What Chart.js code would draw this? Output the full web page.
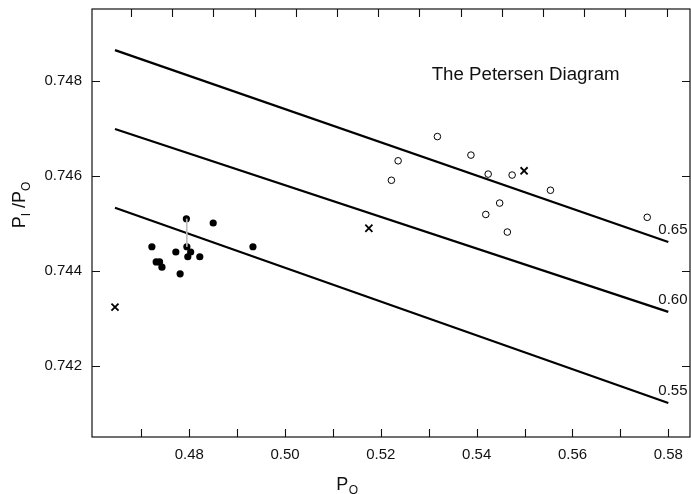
<!DOCTYPE html>
<html><head><meta charset="utf-8">
<script src="https://cdn.jsdelivr.net/npm/chart.js@4/dist/chart.umd.min.js"></script>
<style>html,body{margin:0;padding:0;background:#fff}</style>
</head><body>
<canvas id="c" width="691" height="494"></canvas>
<script>
// ---- data ----
const filledX = [0.4722, 0.4731, 0.4738, 0.4743, 0.4772, 0.4781, 0.4794, 0.4795, 0.4797, 0.4803, 0.4822, 0.4850, 0.4933];
const filledY = [0.74451, 0.74419, 0.74419, 0.74408, 0.74440, 0.74394, 0.74510, 0.74451, 0.74430, 0.74440, 0.74430, 0.74501, 0.74451];
const openX = [0.5318, 0.5236, 0.5222, 0.5388, 0.5424, 0.5474, 0.5554, 0.5448, 0.5419, 0.5464, 0.5756];
const openY = [0.74683, 0.74632, 0.74591, 0.74644, 0.74604, 0.74602, 0.74570, 0.74543, 0.74519, 0.74482, 0.74513];
const crossX = [0.4645, 0.5175, 0.5499];
const crossY = [0.74324, 0.74490, 0.74611];
const linkX = [0.4794, 0.4795];
const linkY = [0.74510, 0.74451];
const lineX = [0.4645, 0.5800];
const line65 = [0.74865, 0.74461];
const line60 = [0.74699, 0.74314];
const line55 = [0.74533, 0.74122];
const lineLabels = ['0.65', '0.60', '0.55'];
const xTicks = [0.47, 0.48, 0.49, 0.50, 0.51, 0.52, 0.53, 0.54, 0.55, 0.56, 0.57, 0.58];
const xLabelled = [0.48, 0.50, 0.52, 0.54, 0.56, 0.58];
const yTicks = [0.742, 0.744, 0.746, 0.748];
const topTicks = [1, 2, 3, 4, 5, 6, 7, 8, 9, 10, 11, 12, 13, 14];
const titleText = 'The Petersen Diagram';

const FONT = "'Liberation Sans', Arial, Helvetica, sans-serif";
const pts = (xs, ys) => xs.map((x, i) => ({x: x, y: ys[i]}));
const noPad = s => { s.paddingTop = 0; s.paddingBottom = 0; s.paddingLeft = 0; s.paddingRight = 0; };

const decor = {
  id: 'decor',
  afterDraw(chart) {
    const ctx = chart.ctx, a = chart.chartArea;
    const xs = chart.scales.x, ys = chart.scales.y, xt = chart.scales.xTop;
    ctx.save();
    ctx.strokeStyle = '#111';
    ctx.lineWidth = 1.2;
    ctx.strokeRect(a.left, a.top, a.right - a.left, a.bottom - a.top);
    const L = 8;
    ctx.lineWidth = 1.1;
    ctx.beginPath();
    xTicks.forEach(v => { const p = Math.round(xs.getPixelForValue(v)) + 0.5; ctx.moveTo(p, a.bottom); ctx.lineTo(p, a.bottom - L); });
    topTicks.forEach(v => { const p = Math.round(xt.getPixelForValue(v)) + 0.5; ctx.moveTo(p, a.top); ctx.lineTo(p, a.top + L); });
    yTicks.forEach(v => { const p = Math.round(ys.getPixelForValue(v)) + 0.5; ctx.moveTo(a.left, p); ctx.lineTo(a.left + L, p); ctx.moveTo(a.right, p); ctx.lineTo(a.right - L, p); });
    ctx.stroke();

    // line labels
    ctx.fillStyle = '#111';
    ctx.font = '15px ' + FONT;
    ctx.textAlign = 'left';
    ctx.textBaseline = 'middle';
    [line65, line60, line55].forEach((ln, i) => {
      const px = xs.getPixelForValue(lineX[1]), py = ys.getPixelForValue(ln[1]);
      ctx.fillText(lineLabels[i], px - 10, py - 12);
    });

    // chart title inside plot
    ctx.font = '18.7px ' + FONT;
    ctx.fillText(titleText, xs.getPixelForValue(0.5306), ys.getPixelForValue(0.74813));

    // x axis title P_O
    ctx.textBaseline = 'alphabetic';
    const big = '18px ' + FONT, small = '12px ' + FONT;
    ctx.font = big; const wP = ctx.measureText('P').width;
    ctx.font = small; const wO = ctx.measureText('O').width;
    let x0 = 347 - (wP + wO) / 2;
    ctx.font = big; ctx.fillText('P', x0, 490);
    ctx.font = small; ctx.fillText('O', x0 + wP + 0.5, 494);

    // y axis title P_I / P_O
    const parts = [['P', big, 0], ['I', small, 5], [' /', big, 0], ['P', big, 0], ['O', small, 5]];
    let tw = 0;
    parts.forEach(p => { ctx.font = p[1]; tw += ctx.measureText(p[0]).width; });
    ctx.translate(25, 205 + tw / 2);
    ctx.rotate(-Math.PI / 2);
    let cx = 0;
    parts.forEach(p => { ctx.font = p[1]; ctx.fillText(p[0], cx, p[2]); cx += ctx.measureText(p[0]).width; });
    ctx.restore();
  }
};

new Chart(document.getElementById('c'), {
  type: 'scatter',
  data: {
    datasets: [
      {data: pts(linkX, linkY), showLine: true, borderColor: '#bbb', borderWidth: 1, pointRadius: 0},
      {data: pts(lineX, line65), showLine: true, borderColor: '#000', borderWidth: 2.2, pointRadius: 0},
      {data: pts(lineX, line60), showLine: true, borderColor: '#000', borderWidth: 2.2, pointRadius: 0},
      {data: pts(lineX, line55), showLine: true, borderColor: '#000', borderWidth: 2.2, pointRadius: 0},
      {data: pts(filledX, filledY), pointRadius: 3.6, pointBackgroundColor: '#000', pointBorderColor: '#000', pointBorderWidth: 0},
      {data: pts(openX, openY), pointRadius: 3.3, pointBackgroundColor: '#fff', pointBorderColor: '#000', pointBorderWidth: 1},
      {data: pts(crossX, crossY), pointStyle: 'crossRot', pointRadius: 5, pointBorderColor: '#000', pointBorderWidth: 1.8}
    ]
  },
  options: {
    responsive: false,
    animation: false,
    devicePixelRatio: 1,
    layout: {autoPadding: false, padding: {left: 0, top: 9, right: 1, bottom: 0}},
    plugins: {legend: {display: false}, tooltip: {enabled: false}, title: {display: false}},
    scales: {
      x: {
        type: 'linear', position: 'bottom', min: 0.4597, max: 0.58453,
        afterBuildTicks: s => { s.ticks = xTicks.map(v => ({value: v})); },
        afterFit: s => { s.height = 57; noPad(s); },
        grid: {display: false, drawTicks: false}, border: {display: false},
        ticks: {
          autoSkip: false, maxRotation: 0, padding: 9, color: '#111',
          font: {size: 15, family: FONT},
          callback: v => xLabelled.some(l => Math.abs(l - v) < 1e-6) ? v.toFixed(2) : ''
        }
      },
      xTop: {
        type: 'linear', position: 'top', min: 0.053, max: 14.568,
        afterFit: s => { s.height = 0; noPad(s); },
        grid: {display: false, drawTicks: false}, border: {display: false},
        ticks: {display: false}
      },
      y: {
        type: 'linear', position: 'left', min: 0.740505, max: 0.749516,
        afterBuildTicks: s => { s.ticks = yTicks.map(v => ({value: v})); },
        afterFit: s => { s.width = 92; noPad(s); },
        grid: {display: false, drawTicks: false}, border: {display: false},
        ticks: {padding: 10, color: '#111', font: {size: 15, family: FONT}, callback: v => v.toFixed(3)}
      }
    }
  },
  plugins: [decor]
});
</script>
</body></html>
